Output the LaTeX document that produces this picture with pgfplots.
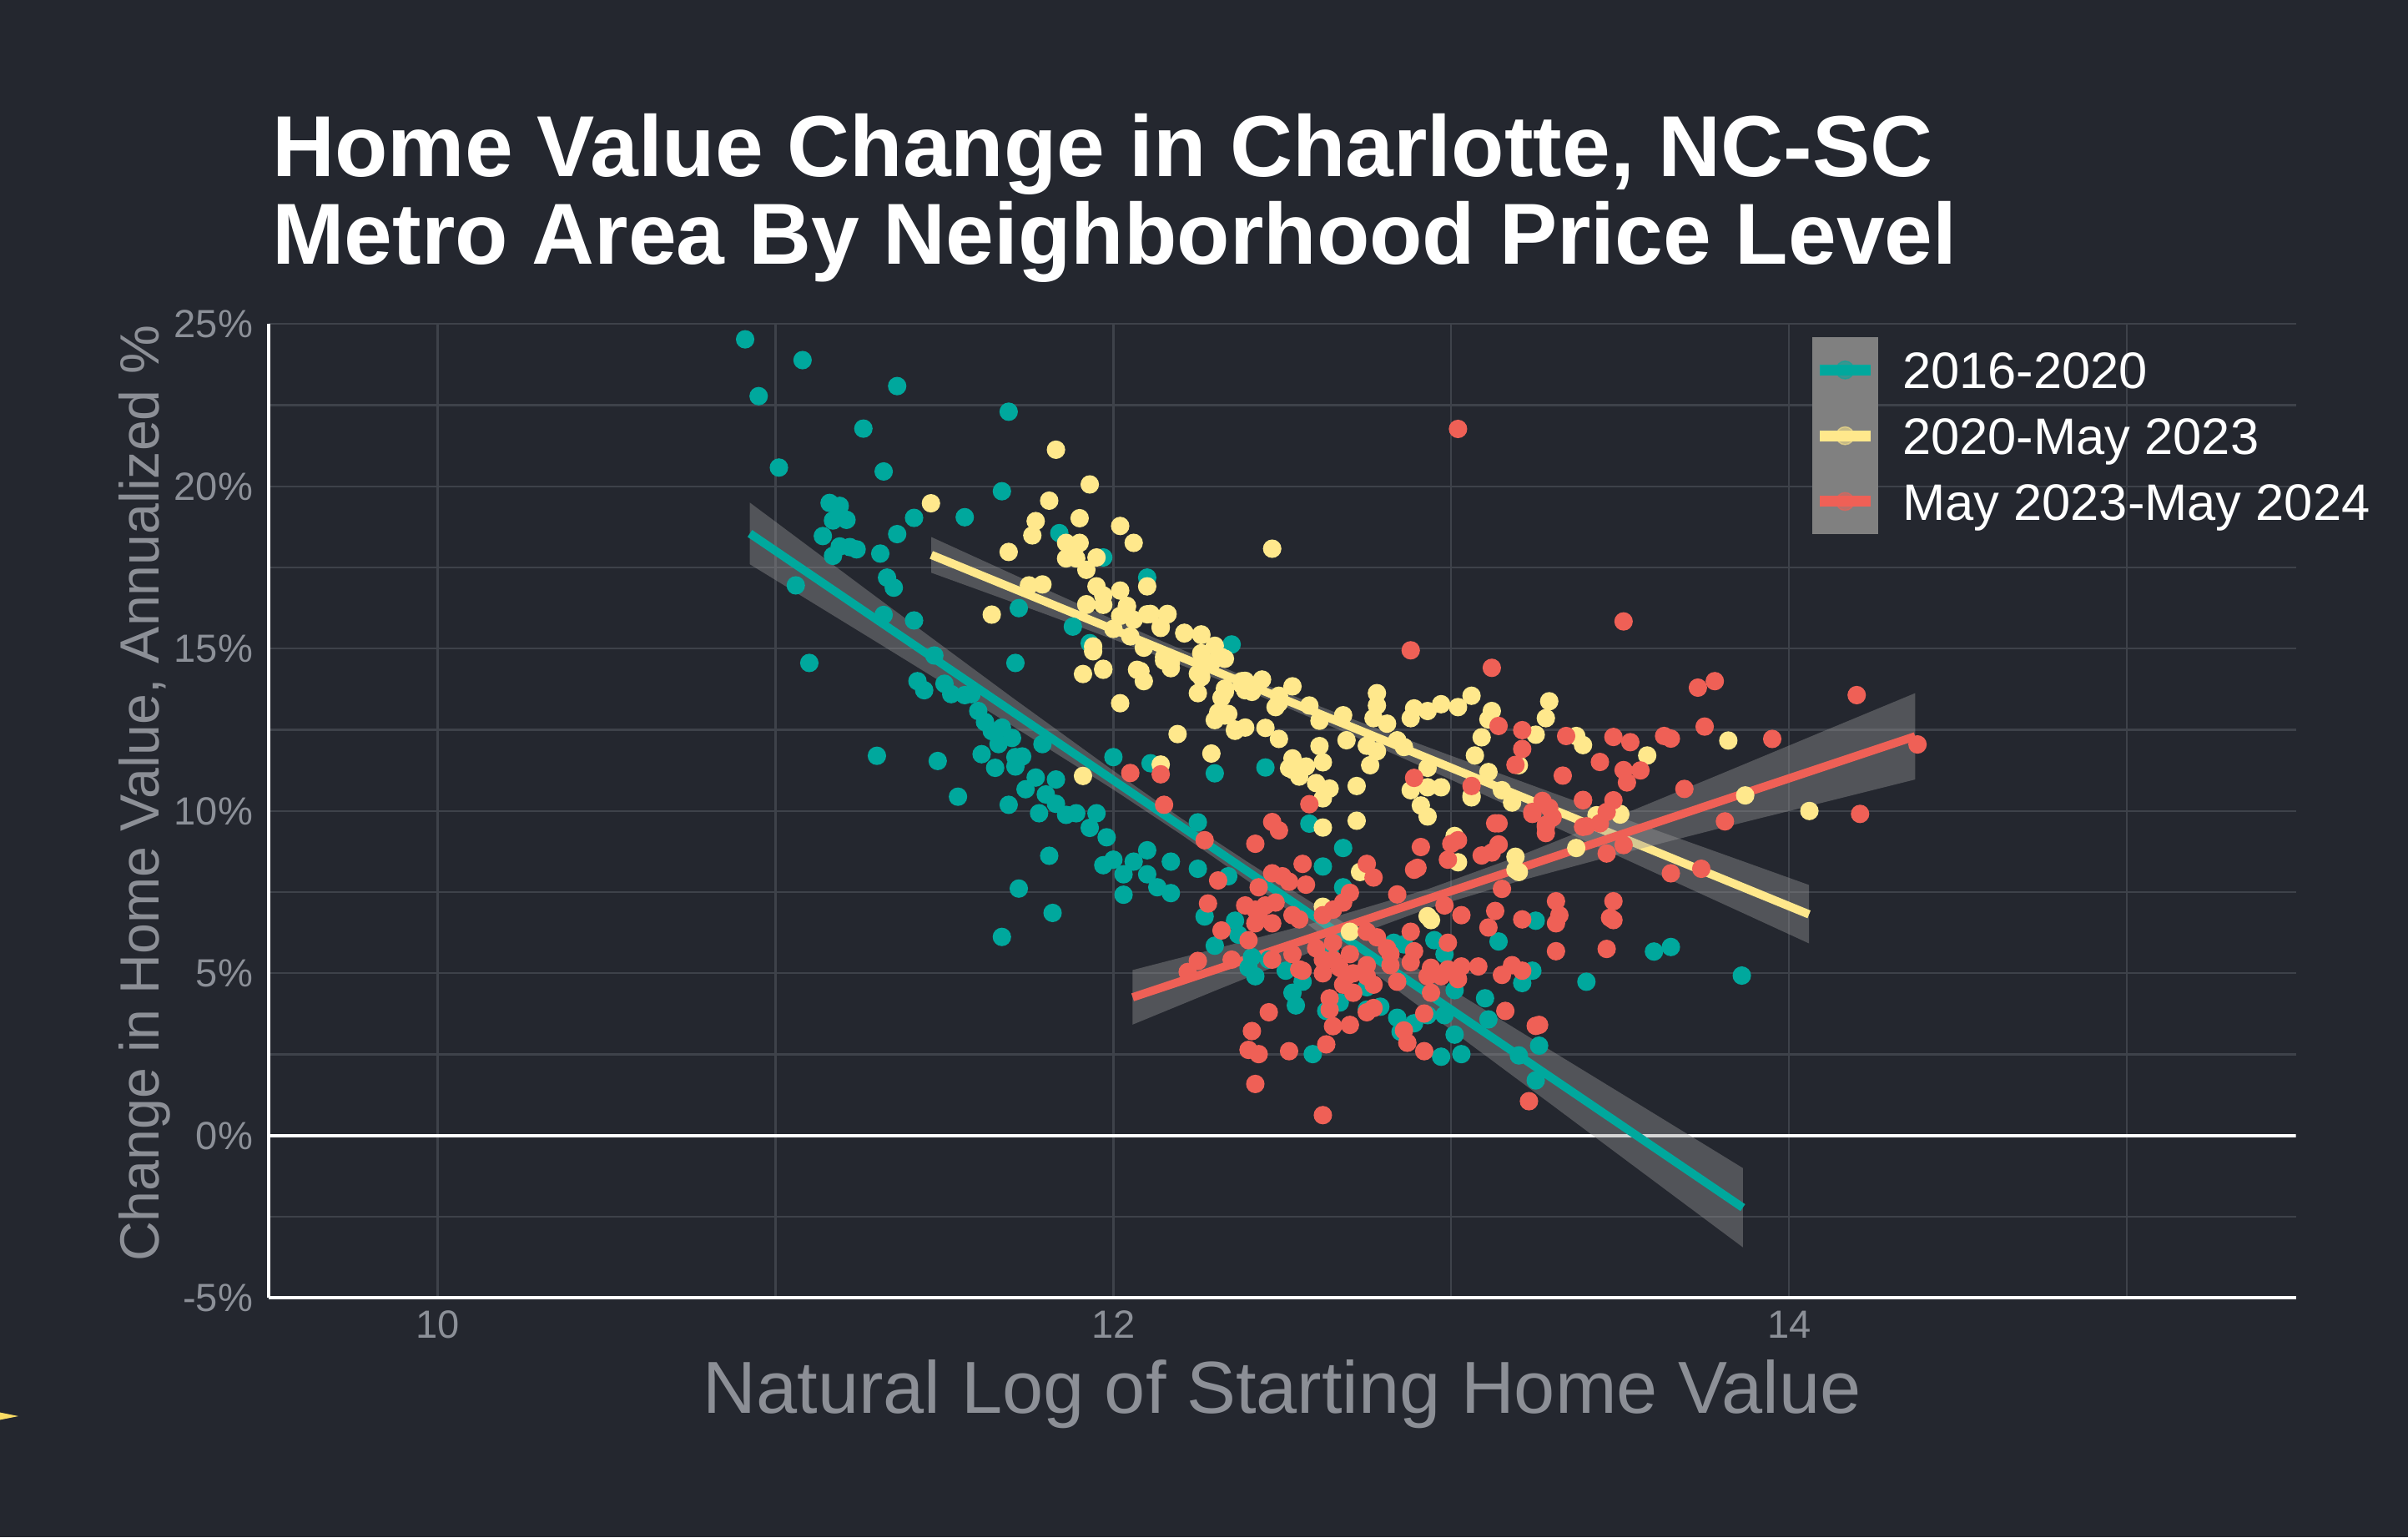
\documentclass[border=0pt]{standalone}
\usepackage{fontspec}
\setmainfont{Liberation Sans}
\usepackage{pgfplots}
\pgfplotsset{compat=1.18}
\definecolor{bgc}{RGB}{36,39,47}
\definecolor{gridc}{RGB}{62,66,74}
\definecolor{tealc}{RGB}{0,168,157}
\definecolor{yellc}{RGB}{255,232,140}
\definecolor{redc}{RGB}{239,96,86}
\definecolor{tickc}{RGB}{140,144,152}
\definecolor{labc}{RGB}{140,143,150}
\definecolor{bandc}{RGB}{153,153,153}
\definecolor{keyc}{RGB}{128,128,128}
\definecolor{arrowc}{RGB}{250,220,100}
\newcommand\titlefnt{\fontsize{28.2pt}{30pt}\selectfont\bfseries}
\newcommand\tickfnt{\fontsize{12.8pt}{13pt}\selectfont}
\newcommand\xlabfnt{\fontsize{24pt}{26pt}\selectfont}
\newcommand\ylabfnt{\fontsize{18pt}{19pt}\selectfont}
\newcommand\legfnt{\fontsize{16.7pt}{18pt}\selectfont}
\begin{document}
\begin{tikzpicture}
\fill[bgc] (0pt,0pt) rectangle (784pt,500.5pt);
\path[use as bounding box] (0pt,0pt) rectangle (784pt,500.5pt);
\fill[arrowc] (0pt,38.3pt) -- (6pt,39.5pt) -- (0pt,40.7pt) -- cycle;
\begin{axis}[
 at={(87.5pt,78pt)}, anchor=south west,
 scale only axis, width=660pt, height=317pt,
 xmin=9.5, xmax=15.5, ymin=-5, ymax=25,
 axis x line*=bottom, axis y line*=left,
 axis line style={white, line width=1.2pt, -},
 xtick={10,12,14}, xticklabels={10,12,14},
 minor xtick={11,13,15},
 ytick={-5,0,5,10,15,20,25}, yticklabels={-5\%,0\%,5\%,10\%,15\%,20\%,25\%},
 minor ytick={-2.5,2.5,7.5,12.5,17.5,22.5},
 major tick length=0pt, minor tick length=0pt,
 grid=both,
 major grid style={gridc, line width=0.6pt},
 minor grid style={gridc, line width=0.6pt},
 ticklabel style={font=\tickfnt, text=tickc},
 xticklabel style={anchor=base, yshift=-13pt, inner sep=0pt},
 yticklabel style={anchor=east, xshift=-5pt, inner sep=0pt},
 xlabel={Natural Log of Starting Home Value},
 ylabel={Change in Home Value, Annualized \%},
 xlabel style={font=\xlabfnt, text=labc, at={(axis description cs:0.5,-0.1183)}, anchor=base, inner sep=0pt},
 ylabel style={font=\ylabfnt, text=labc, at={(axis description cs:-0.05417,0.518)}, anchor=base, inner sep=0pt},
 legend style={at={(0.7614,0.9866)}, anchor=north west, draw=none, fill=none, inner sep=0pt, outer sep=0pt, row sep=0pt, column sep=8pt, font=\legfnt, cells={anchor=west}, nodes={anchor=west, inner sep=0pt, text height=12pt, text depth=0pt, text=white}},
]
% zero line
\addplot[white, line width=1.1pt, forget plot] coordinates {(9.5,0) (15.5,0)};
% scatter 2016-2020
\addplot[only marks, mark=*, mark size=2.8pt, color=tealc, forget plot] coordinates {
(10.91,24.53) (11.08,23.89) (10.95,22.78) (11.36,23.09) (11.26,21.78) (11.69,22.30) (11.01,20.58) (11.32,20.46) (11.67,19.85) (11.16,19.49) (11.19,19.40) (11.17,18.95) (11.21,18.97) (11.14,18.47) (11.41,19.03) (11.56,19.05) (11.36,18.53) (11.31,17.93) (11.19,18.15) (11.22,18.13) (11.24,18.06) (11.17,17.86) (11.33,17.19) (11.35,16.88) (11.06,16.95) (11.32,16.04) (11.41,15.87) (11.10,14.56) (11.84,18.56) (11.97,17.81) (12.10,17.19) (11.72,16.25) (11.88,15.68) (11.93,15.17) (12.35,15.13) (11.47,14.79) (11.71,14.56) (11.42,14.00) (11.44,13.72) (11.50,13.92) (11.52,13.60) (11.56,13.57) (11.58,13.60) (11.60,13.08) (11.62,12.74) (11.64,12.46) (11.67,12.57) (11.70,12.25) (11.66,12.06) (11.79,12.06) (11.61,11.75) (11.71,11.66) (11.73,11.68) (11.65,11.33) (11.71,11.37) (12.00,11.66) (12.11,11.47) (12.30,11.16) (11.30,11.70) (11.48,11.54) (11.54,10.44) (11.69,10.19) (11.74,10.67) (11.77,11.03) (11.83,10.97) (11.80,10.51) (11.83,10.22) (11.86,9.88) (11.89,9.93) (11.95,9.93) (11.93,9.48) (11.98,9.19) (11.78,9.93) (11.81,8.62) (12.25,9.65) (11.97,8.33) (12.00,8.50) (12.06,8.44) (12.10,8.79) (12.17,8.44) (12.10,8.05) (12.13,7.65) (12.03,8.05) (12.03,7.42) (12.25,8.22) (11.72,7.61) (11.82,6.86) (11.67,6.12) (12.45,11.34) (12.17,7.47) (12.58,9.61) (12.68,8.86) (12.62,8.29) (12.34,7.99) (12.68,7.65) (12.27,6.75) (12.36,6.62) (12.37,6.19) (12.30,5.85) (12.42,4.91) (12.40,5.17) (12.51,5.08) (12.53,4.40) (12.54,4.01) (12.56,4.74) (12.64,5.68) (12.67,4.10) (12.63,3.84) (12.75,3.88) (12.79,3.97) (12.75,4.57) (12.83,5.94) (12.86,5.89) (12.95,6.02) (12.98,5.59) (13.01,4.48) (12.84,3.63) (12.85,3.20) (12.89,3.46) (12.93,3.71) (12.98,3.71) (13.01,3.11) (12.97,2.43) (13.03,2.51) (12.59,2.51) (13.14,5.98) (13.10,4.23) (13.11,3.58) (13.21,4.70) (13.24,5.08) (13.25,6.62) (13.26,2.77) (13.25,1.70) (13.40,4.74) (13.20,2.47) (12.41,5.50) (12.46,5.42) (13.60,5.67) (13.65,5.81) (13.86,4.93)
};
% scatter 2020-May 2023
\addplot[only marks, mark=*, mark size=2.8pt, color=yellc, forget plot] coordinates {
(11.83,21.13) (11.93,20.06) (11.81,19.56) (11.46,19.48) (11.90,19.02) (11.77,18.93) (11.76,18.49) (12.02,18.78) (12.06,18.26) (11.69,17.98) (11.86,18.26) (11.90,18.26) (11.88,17.96) (11.86,17.78) (11.89,17.78) (11.95,17.81) (11.92,17.43) (11.75,16.95) (11.79,16.98) (11.64,16.05) (11.95,16.92) (11.97,16.64) (11.97,16.35) (12.02,16.79) (12.04,16.29) (11.92,16.35) (12.02,16.01) (12.10,16.92) (12.06,15.89) (12.11,16.07) (12.16,16.07) (12.14,15.67) (12.00,15.61) (12.05,15.38) (12.09,15.03) (12.21,15.49) (12.26,15.44) (12.30,15.09) (12.33,14.69) (12.26,14.86) (12.15,14.63) (12.17,14.40) (12.25,14.23) (12.26,14.12) (11.91,14.22) (11.94,15.07) (11.94,14.92) (11.97,14.38) (12.07,14.35) (12.09,14.00) (12.38,14.00) (12.39,13.72) (12.25,13.63) (12.32,13.49) (12.33,13.77) (12.02,13.32) (12.31,13.03) (12.30,12.80) (12.33,12.94) (12.36,12.51) (12.39,12.57) (12.19,12.37) (12.29,11.77) (12.14,11.43) (11.91,11.08) (12.47,18.08) (11.92,16.37) (12.04,16.32) (12.10,16.06) (12.16,16.06) (12.14,15.64) (12.21,15.47) (12.26,15.42) (12.32,14.74) (12.29,14.57) (12.17,14.57) (12.15,14.74) (11.97,14.35) (12.08,14.31) (12.33,13.67) (12.39,14.01) (12.44,14.05) (12.53,13.84) (12.49,13.33) (12.34,12.99) (12.36,12.47) (12.45,12.56) (12.49,12.22) (12.53,11.62) (12.53,11.27) (12.55,11.06) (12.38,13.89) (12.41,13.67) (12.49,13.55) (12.48,13.20) (12.58,13.25) (12.61,12.78) (12.68,12.95) (12.69,12.18) (12.75,12.01) (12.78,11.84) (12.76,11.41) (12.78,13.63) (12.78,13.25) (12.77,12.86) (12.81,12.69) (12.84,12.18) (12.86,11.97) (12.88,12.86) (12.89,13.16) (12.93,13.08) (12.97,13.29) (13.02,13.20) (13.06,13.55) (13.12,13.08) (13.11,12.82) (13.09,12.27) (13.07,11.71) (13.11,11.20) (13.15,10.64) (13.18,10.26) (13.25,12.35) (13.28,12.86) (13.29,13.38) (13.20,11.41) (13.06,10.47) (12.97,10.73) (12.93,10.73) (12.88,10.64) (12.91,10.17) (12.93,9.83) (12.93,11.33) (12.72,10.77) (12.64,10.69) (12.62,10.39) (12.60,10.86) (12.62,11.50) (12.61,12.00) (12.52,11.32) (12.57,11.37) (12.72,9.70) (12.62,9.49) (13.01,9.23) (13.82,12.17) (14.06,10.00) (13.58,11.71) (13.87,10.48) (13.50,9.89) (13.37,12.31) (13.39,12.03) (13.37,8.86) (13.43,9.87) (13.50,9.91) (13.19,8.59) (13.19,8.19) (13.02,8.42) (12.93,6.76) (12.94,6.64) (13.06,10.42) (12.73,8.12) (12.62,7.05) (13.20,8.12) (12.70,6.28)
};
% scatter May 2023-May 2024
\addplot[only marks, mark=*, mark size=2.8pt, color=redc, forget plot] coordinates {
(12.58,10.21) (12.47,9.66) (12.49,9.40) (12.42,8.99) (12.27,9.10) (12.31,7.86) (12.56,8.37) (12.43,7.65) (12.47,8.08) (12.50,7.99) (12.52,7.82) (12.57,7.73) (12.28,7.15) (12.70,7.48) (12.68,7.18) (12.65,6.96) (12.62,6.79) (12.39,7.09) (12.42,6.96) (12.45,7.09) (12.48,7.18) (12.43,6.79) (12.47,6.54) (12.42,6.54) (12.53,6.79) (12.55,6.66) (12.32,6.32) (12.40,6.02) (12.35,5.42) (12.47,5.42) (12.53,5.59) (12.55,5.12) (12.56,5.08) (12.60,5.77) (12.62,5.42) (12.62,5.00) (12.65,5.94) (12.65,5.42) (12.67,5.17) (12.70,5.59) (12.69,4.91) (12.68,4.65) (12.71,4.40) (12.71,5.00) (12.75,5.25) (12.75,4.91) (12.77,4.65) (12.78,6.11) (12.75,6.28) (12.82,5.59) (12.82,5.25) (12.84,4.74) (12.88,5.34) (12.89,5.68) (12.88,6.28) (12.93,4.91) (12.94,5.17) (12.94,4.40) (12.97,4.91) (12.99,5.12) (13.02,4.82) (13.03,5.21) (12.99,5.94) (13.08,5.21) (13.15,4.95) (13.18,5.25) (13.21,5.08) (12.64,4.23) (12.64,3.88) (12.75,3.80) (12.77,3.93) (12.65,3.37) (12.70,3.41) (12.46,3.80) (12.41,3.22) (12.40,2.64) (12.43,2.51) (12.52,2.60) (12.63,2.81) (12.86,3.24) (12.87,2.86) (12.92,3.76) (12.92,2.60) (13.16,3.84) (13.26,3.41) (12.42,1.59) (12.62,0.63) (13.23,1.06) (13.31,5.68) (13.31,6.54) (13.32,6.79) (13.31,7.22) (13.21,6.66) (13.13,6.92) (13.11,6.41) (13.03,6.79) (13.15,7.60) (12.98,7.09) (12.84,7.43) (12.90,8.25) (12.91,8.89) (12.75,8.37) (12.77,7.95) (12.99,8.50) (13.02,9.10) (13.09,8.63) (13.12,8.72) (13.14,8.97) (13.14,9.62) (13.24,9.91) (13.28,9.57) (13.28,9.32) (13.39,10.34) (13.40,9.53) (12.81,5.77) (13.51,15.84) (12.88,14.95) (13.12,14.41) (13.73,13.80) (13.78,14.00) (13.75,12.60) (13.63,12.31) (13.65,12.23) (13.95,12.22) (13.48,12.28) (13.53,12.12) (13.44,11.51) (13.51,11.26) (13.56,11.25) (13.52,10.88) (13.34,12.31) (13.21,12.49) (13.21,11.91) (13.19,11.42) (13.14,12.62) (13.33,11.09) (13.69,10.68) (13.39,10.33) (13.48,10.33) (13.46,9.97) (13.39,9.51) (13.44,9.62) (13.65,8.08) (13.74,8.22) (13.81,9.68) (12.89,11.02) (13.06,10.77) (13.27,10.31) (13.24,9.97) (13.28,9.51) (13.13,9.62) (13.14,8.96) (13.00,8.99) (12.89,8.19) (12.15,10.19) (12.05,11.17) (12.14,11.13) (12.25,5.38) (12.22,5.04) (13.48,7.22) (13.48,6.64) (13.46,5.75) (13.25,3.38) (13.02,21.77) (14.20,13.57) (14.38,12.05) (14.21,9.91) (13.46,8.69) (13.51,8.95) (13.47,6.71) (13.30,9.80) (13.29,10.10)
};
% confidence bands and fits
\addplot[draw=none, fill=bandc, fill opacity=0.4, forget plot] coordinates {
(10.924,19.50) (11.3,16.58) (11.7,13.50) (12.0,11.24) (12.2,9.78) (12.4,8.41) (12.7,6.44) (13.0,4.51) (13.3,2.59) (13.6,0.68) (13.863,-1.00)
(13.863,-3.44) (13.6,-1.40) (13.3,0.93) (13.0,3.25) (12.7,5.56) (12.4,7.83) (12.2,9.28) (12.0,10.66) (11.7,12.63) (11.3,15.20) (10.924,17.60)};
\addplot[tealc, line width=2.7pt, forget plot] coordinates {(10.924,18.55) (13.863,-2.22)};
\addplot[draw=none, fill=bandc, fill opacity=0.4, forget plot] coordinates {
(11.461,18.44) (11.8,16.83) (12.1,15.43) (12.4,14.09) (12.7,12.86) (13.0,11.70) (13.3,10.56) (13.6,9.43) (13.85,8.50) (14.059,7.72)
(14.059,5.92) (13.85,6.92) (13.6,8.11) (13.3,9.54) (13.0,10.96) (12.7,12.36) (12.4,13.69) (12.1,14.90) (11.8,16.06) (11.461,17.34)};
\addplot[yellc, line width=2.7pt, forget plot] coordinates {(11.461,17.89) (14.059,6.815)};
\addplot[draw=none, fill=bandc, fill opacity=0.4, forget plot] coordinates {
(12.057,5.10) (12.3,5.75) (12.6,6.57) (12.93,7.59) (13.2,8.61) (13.5,9.86) (13.8,11.15) (14.1,12.45) (14.373,13.63)
(14.373,10.97) (14.1,10.26) (13.8,9.48) (13.5,8.68) (13.2,7.84) (12.93,6.99) (12.6,5.72) (12.3,4.46) (12.057,3.42)};
\addplot[redc, line width=2.7pt, forget plot] coordinates {(12.057,4.26) (14.373,12.30)};
% legend
\addlegendimage{legend image code/.code={
  \fill[keyc] (0pt,-10.5pt) rectangle (21pt,10.5pt);
  \fill[tealc, opacity=0.55] (10.5pt,0pt) circle (2.9pt);
  \draw[tealc, line width=3.5pt] (2.25pt,0pt) -- (18.8pt,0pt);}}
\addlegendentry{2016-2020}
\addlegendimage{legend image code/.code={
  \fill[keyc] (0pt,-10.5pt) rectangle (21pt,10.5pt);
  \fill[yellc, opacity=0.55] (10.5pt,0pt) circle (2.9pt);
  \draw[yellc, line width=3.5pt] (2.25pt,0pt) -- (18.8pt,0pt);}}
\addlegendentry{2020-May 2023}
\addlegendimage{legend image code/.code={
  \fill[keyc] (0pt,-10.5pt) rectangle (21pt,10.5pt);
  \fill[redc, opacity=0.55] (10.5pt,0pt) circle (2.9pt);
  \draw[redc, line width=3.5pt] (2.25pt,0pt) -- (18.8pt,0pt);}}
\addlegendentry{May 2023-May 2024}
\end{axis}
\node[anchor=base west, inner sep=0pt, text=white, font=\titlefnt] at (88.5pt,443pt) {Home Value Change in Charlotte, NC-SC};
\node[anchor=base west, inner sep=0pt, text=white, font=\titlefnt] at (88.5pt,414.5pt) {Metro Area By Neighborhood Price Level};
\end{tikzpicture}
\end{document}
